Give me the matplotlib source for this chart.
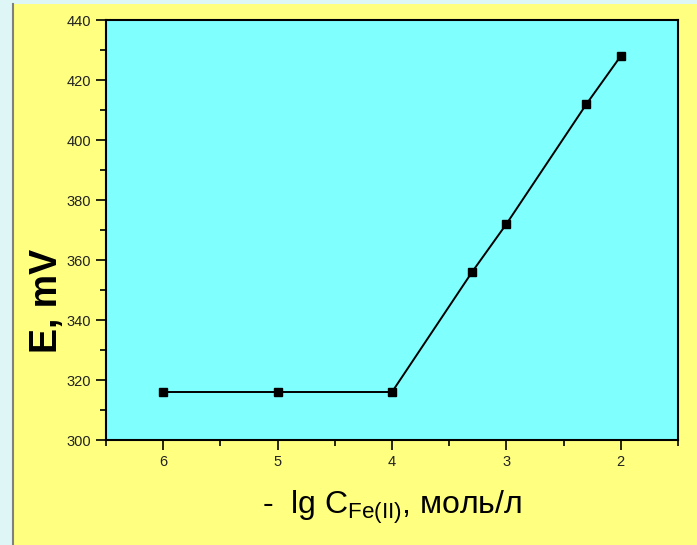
import matplotlib.pyplot as plt
from matplotlib.patches import Rectangle
from matplotlib.lines import Line2D
from matplotlib.ticker import MultipleLocator

plt.rcParams['font.family'] = ['Liberation Sans', 'DejaVu Sans']
plt.rcParams['mathtext.fontset'] = 'custom'
plt.rcParams['mathtext.rm'] = 'Liberation Sans'

lg_c = [6, 5, 4, 3.3, 3, 2.3, 2]
e_mv = [316, 316, 316, 356, 372, 412, 428]

fig = plt.figure(figsize=(6.97, 5.45), dpi=100)
fig.patch.set_facecolor('#dff6f6')
fig.patches.append(Rectangle((14 / 697, 0), 1, 1 - 4 / 545, transform=fig.transFigure,
                             facecolor='#ffff80', edgecolor='none', zorder=-2))
fig.lines.append(Line2D([13.5 / 697, 13.5 / 697], [0, 1 - 4 / 545], transform=fig.transFigure,
                        color='#808080', lw=1.5, zorder=-1))

ax = fig.add_axes([106 / 697, 1 - 440 / 545, 572 / 697, 420 / 545])
ax.set_facecolor('#80ffff')
ax.plot(lg_c, e_mv, color='black', lw=1.4, marker='s', markersize=5.5)

ax.set_xlim(6.5, 1.5)
ax.set_ylim(300, 440)
ax.xaxis.set_major_locator(MultipleLocator(1))
ax.xaxis.set_minor_locator(MultipleLocator(0.5))
ax.yaxis.set_major_locator(MultipleLocator(20))
ax.yaxis.set_minor_locator(MultipleLocator(10))
ax.tick_params(which='both', direction='out', width=1.2, colors='black', labelcolor='#222222', labelsize=10.5)
ax.tick_params(which='major', length=7)
ax.tick_params(which='minor', length=4)
for s in ax.spines.values():
    s.set_linewidth(1.5)

ax.set_ylabel('E, mV', fontsize=27, fontweight='bold')
ax.yaxis.set_label_coords(-0.072, 0.33)
ax.set_xlabel(r'-  lg C$_{\mathregular{Fe(II)}}$, моль/л', fontsize=23, labelpad=14)

fig.savefig('out.png', dpi=100, facecolor=fig.get_facecolor())
